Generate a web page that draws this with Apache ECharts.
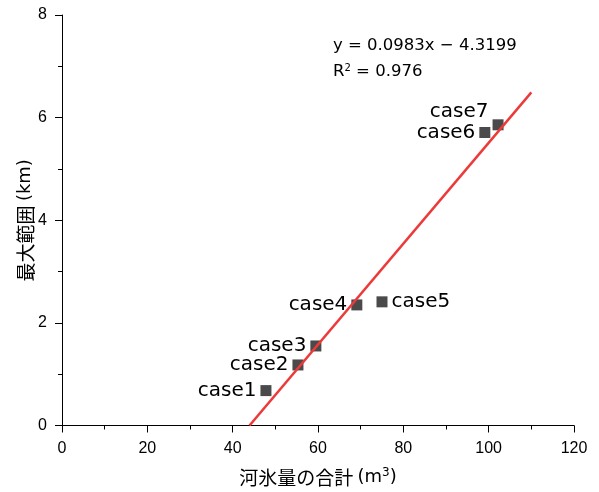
<!DOCTYPE html>
<html><head><meta charset="utf-8">
<script src="https://cdn.jsdelivr.net/npm/echarts@6/dist/echarts.min.js"></script>
<style>html,body{margin:0;padding:0;background:#fff}#c{width:599px;height:492px}</style>
</head><body><div id="c"></div>
<script>
const caseNames = ['case1','case2','case3','case4','case5','case6','case7'];
const iceVolume = [47.8, 55.3, 59.5, 69.1, 75.0, 99.1, 102.2];
const maxRange = [0.68, 1.18, 1.55, 2.35, 2.41, 5.71, 5.86];
const fitLineX = [43.95, 110];
const fitLineY = [0, 6.493];
const labelSide = ['left','left','left','left','right','left','top-left'];
const xTicks = [0, 20, 40, 60, 80, 100, 120];
const yTicks = [0, 2, 4, 6, 8];

const chart = echarts.init(document.getElementById('c'));
const lblFont = 'DejaVu Sans';
const pts = caseNames.map((n, i) => {
  const side = labelSide[i];
  let label;
  if (side === 'top-left') {
    label = {position: 'left', distance: 4, offset: [0, -13]};
  } else {
    label = {position: side, distance: 4};
  }
  return {value: [iceVolume[i], maxRange[i]], name: n, label: label};
});
chart.setOption({
  animation: false,
  grid: {left: 62, right: 25, top: 15, bottom: 65},
  xAxis: {
    type: 'value', min: 0, max: 120, interval: 20,
    name: '河氷量の合計 {p|(m}{s|3}{p|)}', nameLocation: 'middle', nameGap: 41, nameMoveOverlap: false,
    nameTextStyle: {fontFamily: 'Noto Sans CJK JP', fontSize: 19, color: '#000',
      rich: {p: {fontFamily: 'DejaVu Sans', fontSize: 18, color:'#000'},
             s: {fontFamily: 'DejaVu Sans', fontSize: 12, verticalAlign: 'top', padding:[0,0,10,0], color:'#000'}}},
    axisLine: {onZero: false, lineStyle: {color: '#000', width: 1}},
    axisTick: {show: true, length: 7, inside: false, lineStyle: {color: '#000'}},
    minorTick: {show: true, splitNumber: 2, length: 4, lineStyle: {color: '#000'}},
    splitLine: {show: false},
    axisLabel: {color: '#000', fontFamily: 'Liberation Sans', fontSize: 16, margin: 15,
      formatter: v => xTicks.includes(v) ? String(v) : ''}
  },
  yAxis: {
    type: 'value', min: 0, max: 8, interval: 2,
    name: '最大範囲 {p|(km)}', nameLocation: 'middle', nameGap: 27, nameRotate: 90, nameMoveOverlap: false,
    nameTextStyle: {fontFamily: 'Noto Sans CJK JP', fontSize: 19, color: '#000',
      rich: {p: {fontFamily: 'DejaVu Sans', fontSize: 18, color:'#000'}}},
    axisLine: {show: true, onZero: false, lineStyle: {color: '#000', width: 1}},
    axisTick: {show: true, length: 7, inside: false, lineStyle: {color: '#000'}},
    minorTick: {show: true, splitNumber: 2, length: 4, lineStyle: {color: '#000'}},
    splitLine: {show: false},
    axisLabel: {color: '#000', fontFamily: 'Liberation Sans', fontSize: 16, margin: 15,
      formatter: v => yTicks.includes(v) ? String(v) : ''}
  },
  series: [
    {
      type: 'line', data: fitLineX.map((x, i) => [x, fitLineY[i]]),
      showSymbol: false, symbol: 'none', lineStyle: {color: '#ec3a3a', width: 2.5}, z: 3
    },
    {
      type: 'scatter', data: pts, symbol: 'rect', symbolSize: 11,
      itemStyle: {color: '#4a4a4a', opacity: 1}, z: 2,
      label: {show: true, formatter: p => p.name, color: '#000', opacity: 1, fontFamily: lblFont, fontSize: 20}
    }
  ],
  graphic: [
    {type: 'text', left: 333, top: 37, style: {text: 'y = 0.0983x − 4.3199', font: '16.5px "DejaVu Sans"', fill: '#000'}},
    {type: 'text', left: 333, top: 63, style: {
      text: 'R{s|2} = 0.976', font: '16.5px "DejaVu Sans"', fill: '#000',
      rich: {s: {fontSize: 10, fontFamily: 'DejaVu Sans', verticalAlign: 'top', padding: [0,0,8,0]}}}}
  ]
});
</script></body></html>
